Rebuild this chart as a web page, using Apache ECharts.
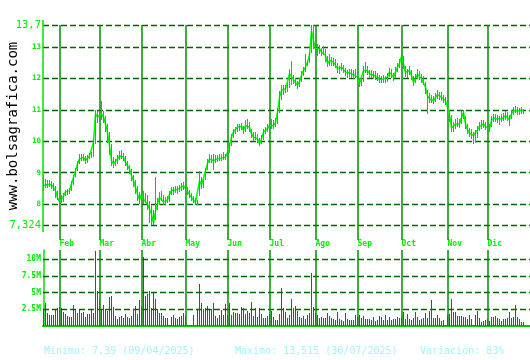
<!DOCTYPE html>
<html><head><meta charset="utf-8">
<script src="https://cdn.jsdelivr.net/npm/echarts@6/dist/echarts.min.js"></script>
<style>html,body{margin:0;padding:0;background:#fff}#c{width:530px;height:360px}</style>
</head><body><div id="c"></div>
<script>
// Month labels and the trading-day index where each month starts
const months = ['Feb','Mar','Abr','May','Jun','Jul','Ago','Sep','Oct','Nov','Dic'];
const monthStarts = [8, 28, 49, 71, 92, 113, 136, 157, 179, 202, 222];
const priceTicks = [7.324, 8, 9, 10, 11, 12, 13, 13.7];
const volTicks = [2.5, 5, 7.5, 10];

// Daily close (one row per month: Jan(part), Feb, Mar, ... Dic(part))
const close = [
 8.59, 8.64, 8.62, 8.67, 8.62, 8.53, 8.43, 8.21,
 8.07, 8.10, 8.26, 8.39, 8.37, 8.42, 8.64, 8.85, 9.06, 9.28, 9.44, 9.46, 9.49, 9.38, 9.44, 9.54, 9.56, 9.97, 10.87, 10.77,
 10.82, 10.87, 10.77, 10.55, 10.29, 9.86, 9.38, 9.28, 9.33, 9.44, 9.54, 9.59, 9.49, 9.33, 9.22, 9.12, 8.90, 8.74, 8.53, 8.32, 8.14,
 8.32, 8.15, 8.21, 8.00, 7.84, 7.68, 7.39, 7.79, 8.00, 8.21, 8.26, 8.07, 8.10, 8.13, 8.30, 8.43, 8.42, 8.45, 8.43, 8.50, 8.55, 8.59,
 8.48, 8.40, 8.30, 8.22, 8.12, 8.05, 8.00, 8.74, 8.60, 8.65, 9.06, 9.30, 9.44, 9.42, 9.38, 9.44, 9.44, 9.46, 9.47, 9.52, 9.49,
 9.65, 9.86, 10.13, 10.29, 10.34, 10.45, 10.45, 10.48, 10.34, 10.50, 10.55, 10.45, 10.23, 10.13, 10.18, 10.08, 9.91, 10.08, 10.29, 10.34, 10.40,
 10.50, 10.55, 10.50, 10.60, 10.93, 11.40, 11.62, 11.60, 11.67, 11.72, 12.15, 12.20, 11.96, 11.90, 11.78, 11.90, 12.10, 12.25, 12.36, 12.52, 12.75, 13.515, 13.20,
 12.94, 12.89, 12.94, 12.84, 12.89, 12.73, 12.47, 12.57, 12.52, 12.52, 12.47, 12.31, 12.25, 12.36, 12.31, 12.20, 12.15, 12.17, 12.13, 12.12, 12.15,
 12.04, 11.83, 11.88, 12.25, 12.31, 12.25, 12.15, 12.13, 12.10, 12.10, 12.04, 11.96, 11.96, 11.99, 11.96, 12.04, 12.20, 12.15, 12.04, 12.20, 12.36, 12.47,
 12.70, 12.46, 12.19, 12.14, 12.25, 12.09, 11.88, 11.99, 12.14, 12.09, 11.99, 11.93, 11.72, 11.45, 11.35, 11.35, 11.29, 11.40, 11.48, 11.45, 11.40, 11.35, 11.29,
 11.08, 10.82, 10.42, 10.39, 10.55, 10.60, 10.55, 10.76, 10.92, 10.55, 10.36, 10.26, 10.23, 10.18, 10.21, 10.36, 10.47, 10.50, 10.55, 10.47,
 10.42, 10.39, 10.66, 10.74, 10.74, 10.71, 10.66, 10.71, 10.76, 10.82, 10.79, 10.68, 10.87, 10.97, 11.03, 10.97, 10.95, 10.99, 10.97
];
// Daily high
const high = [
 8.94, 8.80, 8.78, 8.76, 8.72, 8.66, 8.58, 8.40,
 8.18, 8.28, 8.36, 8.46, 8.47, 8.52, 8.72, 8.94, 9.16, 9.38, 9.58, 9.60, 9.59, 9.54, 9.56, 9.64, 9.66, 10.06, 10.98, 10.96,
 10.94, 11.27, 10.96, 10.80, 10.56, 10.30, 9.90, 9.50, 9.45, 9.56, 9.70, 9.72, 9.62, 9.52, 9.36, 9.25, 9.12, 8.92, 8.76, 8.56, 8.38,
 9.38, 8.40, 8.36, 8.28, 8.10, 7.98, 7.80, 8.87, 8.20, 8.38, 8.40, 8.30, 8.22, 8.25, 8.40, 8.55, 8.54, 8.58, 8.56, 8.62, 8.66, 8.70,
 8.60, 8.55, 8.46, 8.35, 8.25, 8.20, 8.12, 9.06, 8.85, 8.80, 9.15, 9.42, 9.60, 9.56, 9.60, 9.55, 9.55, 9.58, 9.58, 9.65, 9.60,
 9.75, 9.95, 10.22, 10.40, 10.44, 10.55, 10.56, 10.58, 10.50, 10.66, 10.72, 10.60, 10.40, 10.28, 10.30, 10.22, 10.10, 10.20, 10.38, 10.46, 10.55,
 10.70, 10.72, 10.66, 10.75, 11.05, 11.60, 11.80, 11.78, 11.80, 11.85, 12.30, 12.55, 12.12, 12.00, 11.92, 12.02, 12.22, 12.36, 12.78, 12.60, 12.85, 13.70, 13.70,
 13.30, 13.10, 13.05, 12.98, 13.02, 12.92, 12.70, 12.78, 12.68, 12.66, 12.62, 12.48, 12.40, 12.48, 12.44, 12.34, 12.28, 12.30, 12.30, 12.26, 12.30,
 12.20, 12.00, 12.00, 12.40, 12.52, 12.38, 12.28, 12.26, 12.22, 12.22, 12.18, 12.10, 12.08, 12.10, 12.08, 12.18, 12.32, 12.30, 12.18, 12.35, 12.50, 12.62,
 12.95, 12.70, 12.40, 12.30, 12.40, 12.26, 12.08, 12.15, 12.30, 12.24, 12.14, 12.08, 11.90, 11.62, 11.52, 11.48, 11.45, 11.55, 11.62, 11.58, 11.56, 11.48, 11.42,
 11.22, 11.00, 10.85, 10.60, 10.72, 10.75, 10.70, 10.95, 11.00, 10.80, 10.55, 10.42, 10.38, 10.30, 10.35, 10.50, 10.62, 10.66, 10.68, 10.62,
 10.56, 10.55, 10.80, 10.88, 10.86, 10.85, 10.80, 10.86, 10.90, 10.96, 10.92, 10.84, 11.00, 11.10, 11.13, 11.08, 11.06, 11.08, 11.04
];
// Daily low
const low = [
 8.43, 8.50, 8.52, 8.55, 8.49, 8.40, 8.20, 8.12,
 8.00, 8.02, 8.08, 8.26, 8.28, 8.33, 8.40, 8.62, 8.86, 9.05, 9.26, 9.38, 9.38, 9.26, 9.32, 9.42, 9.46, 9.50, 9.92, 10.58,
 10.62, 10.66, 10.58, 10.28, 9.95, 9.55, 9.20, 9.15, 9.20, 9.28, 9.40, 9.44, 9.36, 9.22, 9.08, 8.96, 8.72, 8.55, 8.32, 8.10, 8.00,
 8.16, 8.00, 8.02, 7.80, 7.40, 7.324, 7.33, 7.50, 7.80, 7.98, 8.10, 7.98, 7.98, 8.02, 8.08, 8.30, 8.30, 8.34, 8.32, 8.38, 8.42, 8.46,
 8.36, 8.28, 8.18, 8.10, 8.02, 7.98, 7.96, 8.27, 8.48, 8.52, 8.75, 9.10, 9.30, 9.30, 9.08, 9.32, 9.34, 9.36, 9.38, 9.40, 9.40,
 9.45, 9.62, 9.85, 10.10, 10.22, 10.30, 10.34, 10.36, 10.22, 10.30, 10.40, 10.30, 10.10, 10.02, 10.05, 9.95, 9.85, 9.92, 10.05, 10.22, 10.28,
 10.38, 10.40, 10.38, 10.45, 10.55, 10.90, 11.30, 11.48, 11.52, 11.58, 11.70, 11.80, 11.82, 11.76, 11.66, 11.72, 11.88, 12.08, 12.20, 12.38, 12.48, 12.80, 12.95,
 12.75, 12.72, 12.78, 12.70, 12.74, 12.52, 12.36, 12.40, 12.40, 12.40, 12.32, 12.18, 12.14, 12.22, 12.18, 12.08, 12.02, 12.05, 12.00, 11.98, 12.02,
 11.90, 11.72, 11.76, 11.90, 12.18, 12.12, 12.02, 12.00, 11.98, 11.96, 11.92, 11.85, 11.84, 11.86, 11.85, 11.90, 12.04, 12.02, 11.92, 12.02, 12.20, 12.32,
 12.40, 12.30, 12.05, 12.00, 12.10, 11.95, 11.75, 11.85, 11.98, 11.96, 11.86, 11.80, 11.50, 10.87, 11.22, 11.22, 11.18, 11.26, 11.34, 11.32, 11.28, 11.22, 11.15,
 10.95, 10.60, 10.30, 10.28, 10.40, 10.45, 10.42, 10.55, 10.70, 10.40, 10.22, 10.12, 10.08, 9.90, 9.95, 10.10, 10.32, 10.38, 10.42, 10.35,
 10.30, 10.28, 10.45, 10.60, 10.62, 10.58, 10.52, 10.60, 10.64, 10.68, 10.64, 10.50, 10.72, 10.84, 10.90, 10.85, 10.84, 10.88, 10.88
];
// Daily volume, millions of shares
const volume = [
 2.5, 3.5, 2.0, 1.6, 1.7, 1.7, 2.4, 2.7,
 2.8, 2.7, 2.15, 1.75, 1.5, 1.3, 1.4, 3.2, 2.6, 2.0, 2.45, 2.0, 2.15, 1.3, 1.85, 1.85, 2.45, 2.0, 11.3, 5.2,
 4.0, 2.5, 3.1, 2.5, 2.25, 4.3, 4.45, 2.85, 1.5, 1.1, 1.3, 1.5, 1.2, 1.8, 1.4, 1.2, 1.5, 2.4, 3.0, 1.8, 3.9,
 3.0, 10.3, 4.5, 4.8, 5.3, 2.7, 5.0, 4.0, 2.5, 2.0, 2.0, 1.5, 1.2, 1.2, 0.2, 1.4, 1.7, 1.25, 1.1, 1.4, 1.55, 2.0,
 1.5, 0.2, 0.2, 0.2, 1.7, 0.2, 2.45, 6.3, 3.5, 2.6, 2.75, 3.05, 2.45, 2.6, 3.5, 1.55, 1.25, 1.7, 2.45, 1.7, 3.35,
 1.6, 3.5, 1.7, 2.15, 2.0, 2.0, 1.85, 2.9, 2.75, 1.85, 2.3, 2.0, 3.65, 1.55, 2.75, 1.4, 2.75, 1.85, 1.25, 1.25, 1.55,
 1.8, 2.3, 1.4, 0.95, 0.95, 1.85, 5.7, 2.75, 2.15, 1.25, 1.7, 4.1, 2.75, 3.05, 2.3, 1.4, 1.25, 1.55, 1.1, 1.7, 2.0, 8.0, 2.9,
 1.9, 1.7, 1.25, 1.4, 1.25, 1.25, 2.0, 1.55, 1.25, 1.1, 0.95, 2.15, 1.1, 0.95, 0.8, 2.0, 1.1, 0.95, 0.95, 0.95, 1.7,
 1.3, 1.7, 1.25, 1.55, 1.1, 1.1, 1.1, 0.95, 1.4, 0.8, 0.95, 1.55, 1.4, 0.95, 1.7, 0.95, 1.4, 0.95, 1.1, 1.1, 1.4, 1.25,
 1.4, 2.15, 1.1, 1.85, 1.1, 0.95, 1.25, 2.15, 1.4, 0.95, 1.1, 1.25, 2.0, 1.25, 2.3, 3.95, 1.25, 1.25, 1.7, 1.25, 0.8, 0.95, 0.2,
 1.6, 1.85, 4.1, 2.15, 2.15, 1.55, 1.55, 1.55, 1.4, 1.4, 1.1, 1.7, 1.1, 0.2, 1.7, 2.3, 1.25, 0.65, 0.8, 0.95,
 1.0, 0.8, 1.4, 1.4, 1.55, 1.25, 1.1, 0.8, 1.1, 1.1, 1.25, 2.15, 1.25, 1.4, 3.2, 1.4, 1.1, 0.65, 0.65
];
const footer = ['Minimo: 7,39 (09/04/2025)', 'Maximo: 13,515 (30/07/2025)', 'Variación: 83%'];
const watermark = 'www.bolsagrafica.com';

const GREEN = '#00f000', GRIDC = '#006400', MONTHC = '#008c00', CYAN = '#00a8c8', RED = '#ff0000';
const MONO = '"DejaVu Sans Mono", monospace';
// axis extents chosen so 13.7 sits at y=25 and 7.324 at y=225 inside a 20..240 grid
const PMIN = 6.856, PMAX = 13.859, PAXIS_END = 7.111, VMAX = 11.38, XMIN = -0.25, XMAX = 243.25;

const priceData = close.map((v, i) => [i, v]);
const rangeData = close.map((v, i) => [i, low[i], high[i]]);
const volData = volume.map((v, i) => [i, 0, v]);

const dash = {type: [6, 3], color: GRIDC, width: 1.3};
const solid = {type: 'solid', color: MONTHC, width: 1.5};
const axisStyle = {type: 'solid', color: '#00e000', width: 1.5};

// one-pixel vertical stick from value(1) to value(2)
function stick(color) {
  return (params, api) => {
    const x = api.value(0);
    const pLo = api.coord([x, api.value(1)]);
    const pHi = api.coord([x, api.value(2)]);
    return {type: 'rect',
      shape: {x: Math.round(pLo[0] - 0.5), y: Math.round(pHi[1]), width: 1, height: Math.max(1, Math.round(pLo[1]) - Math.round(pHi[1]))},
      style: {fill: color, stroke: null}};
  };
}

const chart = echarts.init(document.getElementById('c'));
chart.setOption({
  animation: false,
  backgroundColor: '#ffffff',
  grid: [
    {left: 43, right: 0, top: 20, height: 220, containLabel: false, outerBoundsMode: 'none'},
    {left: 43, right: 0, top: 250, height: 76, containLabel: false, outerBoundsMode: 'none'}
  ],
  xAxis: [
    {type: 'value', gridIndex: 0, min: XMIN, max: XMAX,
     axisLine: {show: false}, axisTick: {show: false}, splitLine: {show: false},
     axisLabel: {customValues: monthStarts, formatter: v => months[monthStarts.indexOf(v)],
       align: 'left', margin: 0, color: GREEN, fontFamily: MONO, fontSize: 8, fontWeight: 'bold'}},
    {type: 'value', gridIndex: 1, min: XMIN, max: XMAX,
     axisLine: {show: true, onZero: false, lineStyle: {color: '#00cc00', width: 2}},
     axisTick: {show: false}, splitLine: {show: false}, axisLabel: {show: false}}
  ],
  yAxis: [
    {type: 'value', gridIndex: 0, min: PMIN, max: PMAX,
     axisLine: {show: false},
     axisTick: {show: false}, splitLine: {show: false},
     axisLabel: {customValues: priceTicks, margin: 2,
       formatter: v => {
         const s = String(v).replace('.', ',');
         return (v === priceTicks[0] || v === priceTicks[priceTicks.length - 1]) ? '{b|' + s + '}' : '{s|' + s + '}';
       },
       rich: {
         b: {fontSize: 10.5, fontFamily: MONO, color: GREEN},
         s: {fontSize: 7.5, fontFamily: MONO, fontWeight: 'bold', color: GREEN}
       }}},
    {type: 'value', gridIndex: 1, min: 0, max: VMAX,
     axisLine: {show: true, lineStyle: {color: '#00e000', width: 1.5}},
     axisTick: {show: false}, splitLine: {show: false},
     axisLabel: {customValues: volTicks, margin: 2, formatter: v => v + 'M',
       color: GREEN, fontFamily: MONO, fontSize: 8, fontWeight: 'bold'}}
  ],
  series: [
    {
      type: 'line', name: 'close', xAxisIndex: 0, yAxisIndex: 0, z: 3,
      data: priceData, showSymbol: false, symbol: 'none',
      lineStyle: {color: '#00ff00', width: 1.5},
      markLine: {
        silent: true, symbol: 'none', label: {show: false}, animation: false, z: 1,
        data: priceTicks.map(v => ({yAxis: v, lineStyle: dash}))
          .concat(monthStarts.map(m => [{coord: [m, priceTicks[priceTicks.length - 1]], lineStyle: solid}, {coord: [m, PMIN]}]))
          .concat([[{coord: [XMIN, PMAX], lineStyle: axisStyle}, {coord: [XMIN, PAXIS_END]}]])
      }
    },
    {
      type: 'custom', name: 'range', xAxisIndex: 0, yAxisIndex: 0, z: 4,
      data: rangeData, encode: {x: 0, y: [1, 2]}, renderItem: stick(CYAN)
    },
    {
      type: 'custom', name: 'volume', xAxisIndex: 1, yAxisIndex: 1, z: 2,
      data: volData, encode: {x: 0, y: [1, 2]}, renderItem: stick(RED)
    },
    {
      type: 'line', name: 'volGrid', xAxisIndex: 1, yAxisIndex: 1, z: 5, data: [],
      markLine: {
        silent: true, symbol: 'none', label: {show: false}, animation: false,
        data: volTicks.map(v => ({yAxis: v, lineStyle: dash}))
          .concat(monthStarts.map(m => ({xAxis: m, lineStyle: solid})))
      }
    }
  ],
  graphic: [
    {type: 'text', x: 13, y: 126, rotation: Math.PI / 2,
     style: {text: watermark, fontFamily: MONO, fontSize: 14, fill: '#000', align: 'center', verticalAlign: 'middle'}},
    {type: 'text', x: 44, y: 351, style: {text: footer[0], fontFamily: MONO, fontSize: 10, fill: '#a6f2fa', verticalAlign: 'middle'}},
    {type: 'text', x: 235, y: 351, style: {text: footer[1], fontFamily: MONO, fontSize: 10, fill: '#a6f2fa', verticalAlign: 'middle'}},
    {type: 'text', x: 420, y: 351, style: {text: footer[2], fontFamily: MONO, fontSize: 10, fill: '#a6f2fa', verticalAlign: 'middle'}}
  ]
});
</script></body></html>
